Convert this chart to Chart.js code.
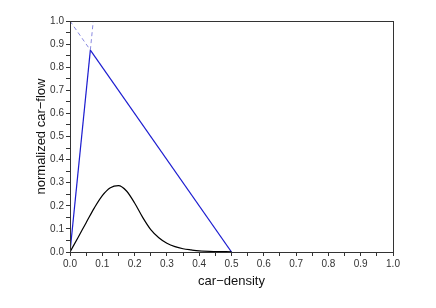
<!DOCTYPE html>
<html>
<head>
<meta charset="utf-8">
<script src="https://cdn.jsdelivr.net/npm/chart.js@4.4.0/dist/chart.umd.min.js"></script>
<style>
  html, body { margin: 0; padding: 0; background: #fff; }
  #wrap { width: 436px; height: 308px; }
</style>
</head>
<body>
<div id="wrap"><canvas id="grafico"></canvas></div>
<script>
// densidade e fluxo
const densidade = [0, 0.025, 0.05, 0.075, 0.1, 0.125, 0.15, 0.175, 0.2, 0.225, 0.25, 0.275, 0.3, 0.325, 0.35, 0.375, 0.4, 0.45, 0.5];
const fluxoSimulado = [0, 0.063, 0.127, 0.19, 0.244, 0.278, 0.287, 0.264, 0.212, 0.15, 0.097, 0.062, 0.038, 0.023, 0.014, 0.009, 0.005, 0.002, 0.001];

// diagrama fundamental (trechos retos)
const subidaX = [0, 0.063];
const subidaY = [0, 0.874];
const subidaTracoX = [0.063, 0.072];
const subidaTracoY = [0.874, 1.0];
const descidaX = [0.063, 0.5];
const descidaY = [0.874, 0];
const descidaTracoX = [0, 0.063];
const descidaTracoY = [1.0, 0.874];

const pontos = (xs, ys) => xs.map((x, i) => ({ x: x, y: ys[i] }));

const azul = '#1c1cd0';
const azulClaro = '#8a8ae0';

const moldura = {
    id: 'moldura',
    afterDraw(chart) {
        const a = chart.chartArea;
        const ctx = chart.ctx;
        ctx.save();
        ctx.strokeStyle = '#333';
        ctx.lineWidth = 1;
        ctx.strokeRect(Math.round(a.left) + 0.5, Math.round(a.top) + 0.5, Math.round(a.right - a.left), Math.round(a.bottom - a.top));
        ctx.restore();
    }
};

const rotulo = v => (Math.abs(v * 10 - Math.round(v * 10)) < 1e-6) ? v.toFixed(1) : '';

new Chart(document.getElementById('grafico'), {
    type: 'scatter',
    data: {
        datasets: [
            { data: pontos(densidade, fluxoSimulado), showLine: true, borderColor: '#000', borderWidth: 1.2, pointRadius: 0, cubicInterpolationMode: 'monotone' },
            { data: pontos(subidaX, subidaY), showLine: true, borderColor: azul, borderWidth: 1.2, pointRadius: 0 },
            { data: pontos(descidaX, descidaY), showLine: true, borderColor: azul, borderWidth: 1.2, pointRadius: 0 },
            { data: pontos(subidaTracoX, subidaTracoY), showLine: true, borderColor: azulClaro, borderWidth: 1, borderDash: [4, 3], pointRadius: 0 },
            { data: pontos(descidaTracoX, descidaTracoY), showLine: true, borderColor: azulClaro, borderWidth: 1, borderDash: [4, 3], pointRadius: 0 }
        ]
    },
    options: {
        responsive: true,
        maintainAspectRatio: false,
        animation: false,
        layout: { padding: { top: 21, right: 43, left: 30, bottom: 15 } },
        plugins: { legend: { display: false }, tooltip: { enabled: false } },
        scales: {
            x: {
                type: 'linear', min: 0, max: 1,
                afterFit(s) { s.height = 41; },
                border: { color: '#333' },
                grid: { drawOnChartArea: false, tickLength: 4, color: '#333' },
                ticks: { stepSize: 0.05, autoSkip: false, maxRotation: 0, padding: 2, color: '#333', font: { family: 'Liberation Sans', size: 10 }, callback: rotulo },
                title: { display: true, text: 'car\u2212density', color: '#111', font: { family: 'Liberation Sans', size: 13 }, padding: { top: 4, bottom: 4 } }
            },
            y: {
                type: 'linear', min: 0, max: 1,
                afterFit(s) { s.width = 40; },
                border: { color: '#333' },
                grid: { drawOnChartArea: false, tickLength: 4, color: '#333' },
                ticks: { stepSize: 0.05, autoSkip: false, padding: 2, color: '#333', font: { family: 'Liberation Sans', size: 10 }, callback: rotulo },
                title: { display: true, text: 'normalized car\u2212flow', color: '#111', font: { family: 'Liberation Sans', size: 13 }, padding: { top: 4, bottom: 4 } }
            }
        }
    },
    plugins: [moldura]
});
</script>
</body>
</html>
